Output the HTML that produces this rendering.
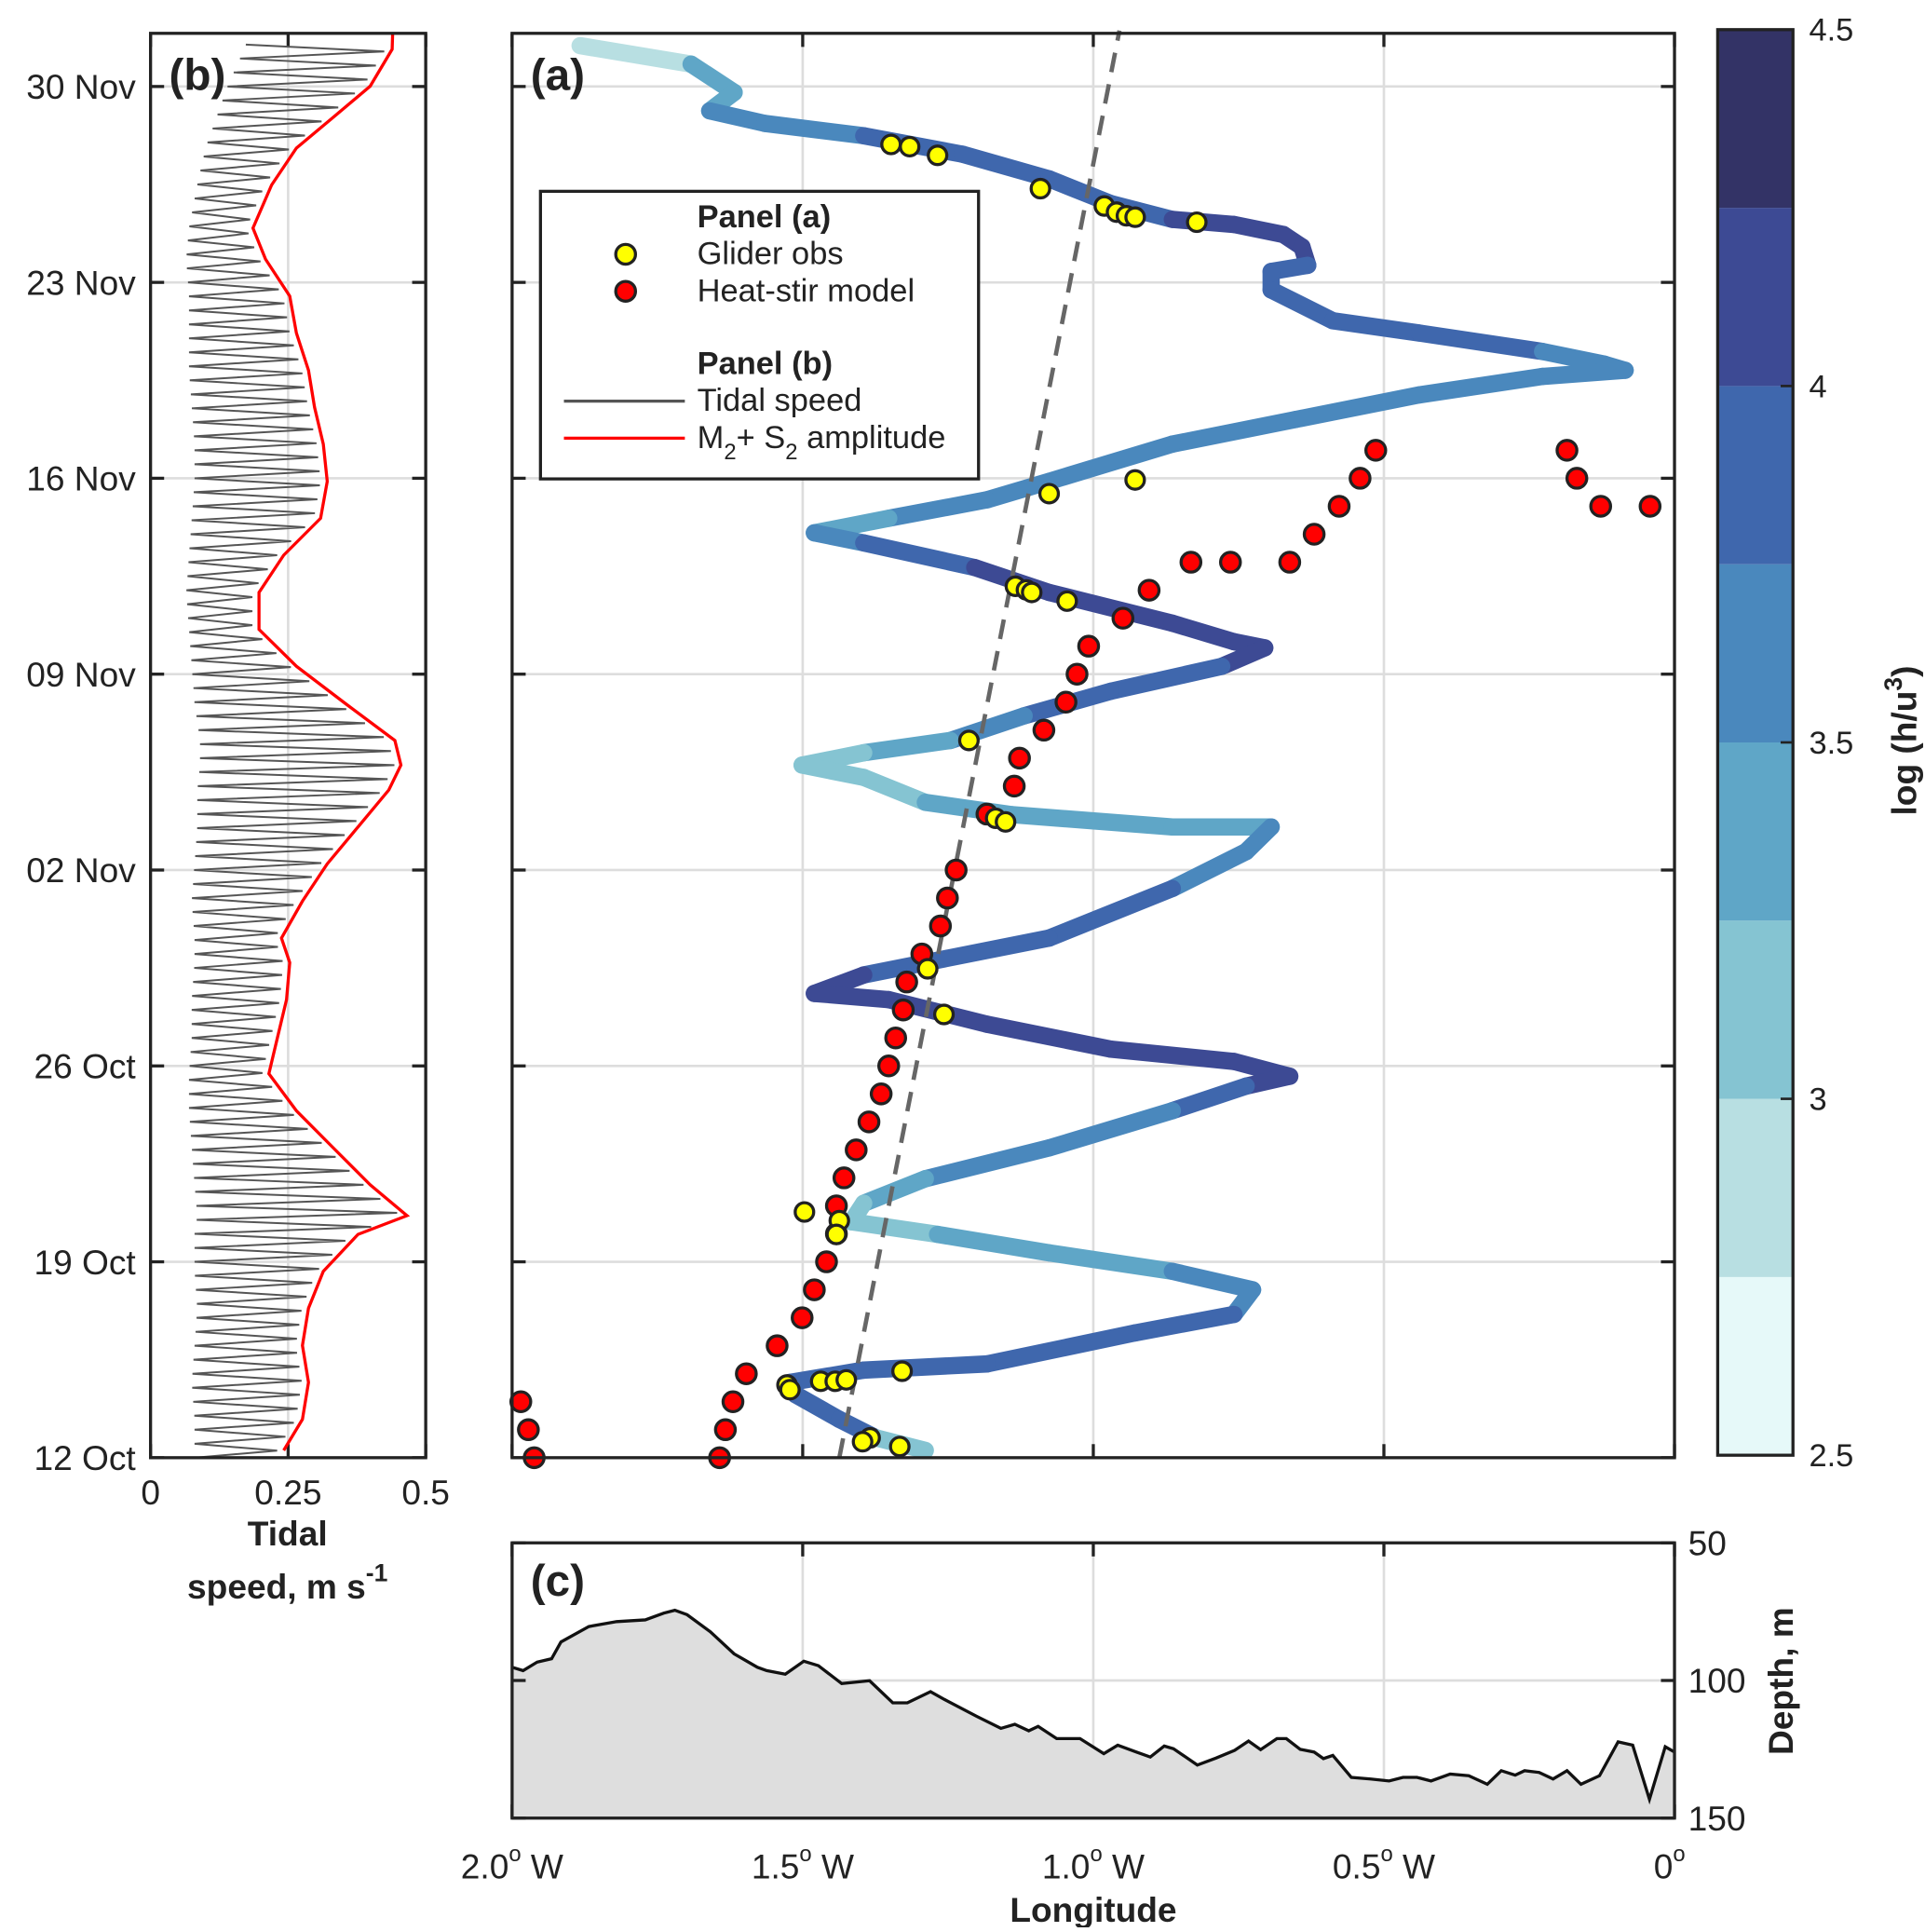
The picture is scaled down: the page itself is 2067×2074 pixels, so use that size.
<!DOCTYPE html>
<html><head><meta charset="utf-8"><style>
html,body{margin:0;padding:0;background:#fff}
svg text{font-family:"Liberation Sans",sans-serif;fill:#222}
</style></head><body>
<svg id="fig" xmlns="http://www.w3.org/2000/svg" width="2067" height="2069" viewBox="0 0 1560 1561.5">
<g id="gb"></g>
<g id="ga"></g>
<g id="gc"></g>
<g id="gcb"></g>
</svg>
<script>
// ---- data ----
const dateTicks=["12 Oct","19 Oct","26 Oct","02 Nov","09 Nov","16 Nov","23 Nov","30 Nov"];
const dateTickDays=[0,7,14,21,28,35,42,49];
const speedTicks=[0,0.25,0.5];
const lonTicks=[-2,-1.5,-1,-0.5,0];
const lonTickLabels=["2.0","1.5","1.0","0.5","0"];
const cbTicks=[2.5,3,3.5,4,4.5];
const cbColors=["#e6f9f9","#b8dfe2","#85c4d2","#5fa6c7","#4a88bd","#3f67ad","#3d4a94","#333366"];
const depthTicks=[50,100,150];
const envDay=[0.26,1.37,2.69,4.01,5.34,6.66,7.98,8.65,9.75,11.07,12.40,13.72,15.04,16.37,17.69,18.57,19.89,21.22,22.54,23.86,24.75,25.63,26.95,28.28,29.60,30.92,32.25,33.57,34.89,36.22,37.54,38.86,40.19,41.51,42.83,43.94,45.48,46.80,47.90,49.01,50.33,50.9];
const envAmp=[.242,.276,.287,.276,.287,.314,.377,.466,.399,.332,.265,.215,.231,.247,.253,.238,.276,.321,.377,.433,.455,.444,.354,.265,.197,.197,.242,.309,.321,.314,.298,.287,.265,.253,.209,.186,.220,.265,.332,.399,.439,.44];
const envMin=[.08,.08,.075,.08,.085,.08,.08,.085,.08,.075,.07,.07,.075,.075,.08,.08,.075,.08,.085,.085,.09,.09,.08,.075,.07,.065,.07,.075,.08,.08,.075,.07,.07,.07,.065,.07,.085,.1,.12,.14,.17,.18];
const trackLon=[-1.883,-1.692,-1.618,-1.660,-1.565,-1.395,-1.225,-1.076,-0.970,-0.864,-0.758,-0.673,-0.641,-0.631,-0.694,-0.694,-0.588,-0.439,-0.227,-0.121,-0.085,-0.227,-0.439,-0.652,-0.864,-1.076,-1.183,-1.352,-1.480,-1.395,-1.204,-1.076,-0.864,-0.758,-0.705,-0.779,-0.970,-1.119,-1.246,-1.395,-1.501,-1.395,-1.289,-1.140,-0.864,-0.694,-0.737,-0.864,-1.076,-1.289,-1.395,-1.480,-1.352,-1.183,-0.970,-0.758,-0.662,-0.737,-0.864,-1.076,-1.289,-1.395,-1.416,-1.268,-1.076,-0.864,-0.726,-0.758,-0.928,-1.183,-1.395,-1.522,-1.512,-1.437,-1.374,-1.289];
const trackDay=[50.46,49.80,48.79,48.13,47.68,47.24,46.58,45.70,44.82,44.25,44.07,43.71,43.27,42.61,42.39,41.73,40.63,40.19,39.53,39.08,38.86,38.64,37.98,37.10,36.22,34.89,34.23,33.57,33.05,32.69,31.81,30.92,29.82,29.16,28.94,28.28,27.39,26.51,25.63,25.19,24.75,24.31,23.42,22.98,22.54,22.54,21.66,20.34,18.57,17.69,17.25,16.59,16.37,15.49,14.60,14.16,13.63,13.28,12.40,11.07,9.97,9.09,8.43,7.98,7.32,6.66,6.00,5.12,4.46,3.35,3.13,2.69,2.25,1.37,0.71,0.26];
const trackLog=[2.6,3.2,3.3,3.5,3.6,3.7,3.8,3.9,3.9,4.0,4.1,4.1,4.1,4.0,3.9,3.8,3.8,3.8,3.7,3.6,3.6,3.6,3.6,3.6,3.6,3.6,3.6,3.5,3.4,3.6,3.9,4.1,4.2,4.2,4.2,3.9,3.8,3.7,3.4,3.2,3.2,3.2,3.25,3.3,3.4,3.4,3.6,3.7,3.8,3.9,4.0,4.1,4.1,4.1,4.2,4.2,4.2,3.9,3.7,3.6,3.4,3.2,3.2,3.2,3.3,3.5,3.7,3.7,3.8,3.8,3.8,3.8,3.7,3.9,3.7,2.7];
const gliderLon=[-1.348,-1.316,-1.268,-1.091,-0.981,-0.960,-0.943,-0.928,-0.822,-1.076,-0.928,-1.134,-1.115,-1.106,-1.045,-1.214,-1.168,-1.151,-1.285,-1.257,-1.497,-1.437,-1.442,-1.527,-1.522,-1.469,-1.444,-1.425,-1.329,-1.384,-1.397,-1.333];
const gliderDay=[46.93,46.85,46.54,45.35,44.73,44.51,44.38,44.33,44.15,34.45,34.94,31.14,31.01,30.92,30.61,25.63,22.85,22.72,17.47,15.84,8.78,8.47,7.98,2.60,2.43,2.73,2.73,2.78,3.09,0.71,0.57,0.40];
const modelLon=[-1.985,-1.972,-1.962,-1.643,-1.633,-1.620,-1.597,-1.544,-1.501,-1.480,-1.459,-1.442,-1.442,-1.429,-1.408,-1.386,-1.365,-1.352,-1.340,-1.327,-1.321,-1.295,-1.263,-1.251,-1.236,-1.183,-1.136,-1.127,-1.085,-1.047,-1.028,-1.008,-0.949,-0.904,-0.832,-0.764,-0.662,-0.620,-0.577,-0.541,-0.514,-0.185,-0.168,-0.127,-0.042];
const modelDay=[2,1,0,0,1,2,3,4,5,6,7,8,9,10,11,12,13,14,15,16,17,18,19,20,21,23,24,25,26,27,28,29,30,31,32,32,32,33,34,35,36,36,35,34,34];
const fitLon=[-1.437,-0.955];
const fitDay=[0,51];
const bathLon=[-2.000,-1.981,-1.957,-1.932,-1.916,-1.868,-1.820,-1.771,-1.739,-1.720,-1.699,-1.659,-1.618,-1.578,-1.562,-1.530,-1.498,-1.473,-1.433,-1.385,-1.345,-1.320,-1.280,-1.256,-1.200,-1.159,-1.135,-1.111,-1.095,-1.063,-1.023,-0.982,-0.958,-0.926,-0.902,-0.878,-0.862,-0.821,-0.789,-0.757,-0.733,-0.712,-0.684,-0.668,-0.644,-0.620,-0.604,-0.588,-0.556,-0.523,-0.491,-0.467,-0.443,-0.419,-0.386,-0.354,-0.322,-0.298,-0.274,-0.258,-0.233,-0.209,-0.185,-0.161,-0.129,-0.097,-0.072,-0.043,-0.016,0];
const bathDepth=[95.2,96.4,93.3,92.1,86.0,80.4,78.6,78.0,75.5,74.5,76.1,82.3,90.3,95.2,96.4,97.7,93.0,94.6,101.1,100.1,108.1,108.1,104.1,106.9,113.1,117.4,115.9,118.3,116.7,121.1,121.1,126.6,123.5,126.0,127.8,123.8,124.8,130.7,128.2,125.4,122.0,125.1,121.1,121.1,125.0,126.0,128.4,127.2,135.2,135.8,136.5,135.2,135.2,136.5,134.0,134.6,137.7,132.8,134.4,132.8,133.4,135.8,132.8,137.7,134.6,122.3,123.5,143.2,124.1,126.0];

// ---- helpers ----
const NS="http://www.w3.org/2000/svg";
function mk(parent,tag,attrs,text){const e=document.createElementNS(NS,tag);for(const k in attrs)e.setAttribute(k,attrs[k]);if(text!==undefined)e.textContent=text;parent.appendChild(e);return e;}
const A={x0:415,x1:1357,y0:27,y1:1181}, B={x0:122,x1:345}, C={y0:1250,y1:1473};
const xLon=l=>A.x1+(l)*(A.x1-A.x0)/2;
const yDay=d=>A.y1-d*(A.y1-A.y0)/50.9;
const xSpd=s=>B.x0+s*(B.x1-B.x0)/0.5;
const yDep=d=>C.y0+(d-50)*(C.y1-C.y0)/100;
const cbY=v=>1179-(v-2.5)*(1179-24)/2;
function colorOf(v){let i=Math.floor((v-2.5)/0.25);i=Math.max(0,Math.min(7,i));return cbColors[i];}
function interp(xs,ys,x){if(x<=xs[0])return ys[0];for(let i=1;i<xs.length;i++){if(x<=xs[i]){const f=(x-xs[i-1])/(xs[i]-xs[i-1]);return ys[i-1]+f*(ys[i]-ys[i-1]);}}return ys[ys.length-1];}

// ---- panel b ----
const gb=document.getElementById('gb');
mk(gb,'rect',{x:B.x0,y:A.y0,width:B.x1-B.x0,height:A.y1-A.y0,fill:'#fff'});
dateTickDays.forEach((d,i)=>{const y=yDay(d);
 const gl=mk(gb,'line',{x1:B.x0,x2:B.x1,y1:y,y2:y,stroke:'#ddd','stroke-width':2});
 
 mk(gb,'line',{x1:B.x0,x2:B.x0+11,y1:y,y2:y,stroke:'#222','stroke-width':2.5});
 mk(gb,'line',{x1:B.x1-11,x2:B.x1,y1:y,y2:y,stroke:'#222','stroke-width':2.5});
 const t=mk(gb,'text',{x:B.x0-12,y:y+10,'text-anchor':'end','font-size':28},dateTicks[i]);
 });
mk(gb,'line',{x1:xSpd(0.25),x2:xSpd(0.25),y1:A.y0,y2:A.y1,stroke:'#ddd','stroke-width':2});
speedTicks.forEach(s=>{const x=xSpd(s);
 mk(gb,'line',{x1:x,x2:x,y1:A.y1,y2:A.y1-11,stroke:'#222','stroke-width':2.5});
 mk(gb,'line',{x1:x,x2:x,y1:A.y0,y2:A.y0+11,stroke:'#222','stroke-width':2.5});
 const t=mk(gb,'text',{x:x,y:A.y1+38,'text-anchor':'middle','font-size':28},String(s));
 });
let zz=[];for(let k=0;k<=202;k++){const t=k*0.25;const v=(k%2===0)?interp(envDay,envMin,t):interp(envDay,envAmp,t)-0.012;zz.push(xSpd(v).toFixed(1)+','+yDay(t).toFixed(1));}
const tl=mk(gb,'polyline',{points:zz.join(' '),fill:'none',stroke:'#555','stroke-width':1.5});

const rl=mk(gb,'polyline',{points:envDay.map((d,i)=>xSpd(envAmp[i]).toFixed(1)+','+yDay(d).toFixed(1)).join(' '),fill:'none',stroke:'#f00','stroke-width':2.5});

mk(gb,'rect',{x:B.x0,y:A.y0,width:B.x1-B.x0,height:A.y1-A.y0,fill:'none',stroke:'#222','stroke-width':2.5});
let lb=mk(gb,'text',{x:137,y:73,'font-size':36,'font-weight':'bold'},'(b)');
let xt=mk(gb,'text',{x:233,y:1252,'text-anchor':'middle','font-size':28,'font-weight':'bold'},'Tidal');
let xt2=mk(gb,'text',{x:233,y:1295,'text-anchor':'middle','font-size':28,'font-weight':'bold'});xt2.innerHTML='speed, m s<tspan dy="-14" font-size="20">-1</tspan>';


// ---- panel a ----
const ga=document.getElementById('ga');
lonTicks.forEach(l=>{const x=xLon(l);if(l>-2&&l<0){const g=mk(ga,'line',{x1:x,x2:x,y1:A.y0,y2:A.y1,stroke:'#ddd','stroke-width':2});}
 mk(ga,'line',{x1:x,x2:x,y1:A.y1,y2:A.y1-11,stroke:'#222','stroke-width':2.5});mk(ga,'line',{x1:x,x2:x,y1:A.y0,y2:A.y0+11,stroke:'#222','stroke-width':2.5});});
dateTickDays.forEach(d=>{const y=yDay(d);mk(ga,'line',{x1:A.x0,x2:A.x1,y1:y,y2:y,stroke:'#ddd','stroke-width':2});
 mk(ga,'line',{x1:A.x0,x2:A.x0+11,y1:y,y2:y,stroke:'#222','stroke-width':2.5});mk(ga,'line',{x1:A.x1-11,x2:A.x1,y1:y,y2:y,stroke:'#222','stroke-width':2.5});});
const tg=mk(ga,'g',{});
for(let i=0;i<trackLon.length-1;i++){const s=mk(tg,'line',{x1:xLon(trackLon[i]),y1:yDay(trackDay[i]),x2:xLon(trackLon[i+1]),y2:yDay(trackDay[i+1]),stroke:colorOf((trackLog[i]+trackLog[i+1])/2),'stroke-width':14,'stroke-linecap':'round'});
 }
const fl=mk(ga,'line',{x1:xLon(fitLon[0]),y1:yDay(fitDay[0]),x2:xLon(fitLon[1]),y2:yDay(fitDay[1]),stroke:'#666','stroke-width':3.5,'stroke-dasharray':'16,10'});

modelLon.forEach((l,i)=>{const c=mk(ga,'circle',{cx:xLon(l),cy:yDay(modelDay[i]),r:8,fill:'#f00',stroke:'#222','stroke-width':2.5});
 });
gliderLon.forEach((l,i)=>{const c=mk(ga,'circle',{cx:xLon(l),cy:yDay(gliderDay[i]),r:7.5,fill:'#ff0',stroke:'#222','stroke-width':2.5});
 });
mk(ga,'rect',{x:A.x0,y:A.y0,width:A.x1-A.x0,height:A.y1-A.y0,fill:'none',stroke:'#222','stroke-width':2.5});
lb=mk(ga,'text',{x:430,y:73,'font-size':36,'font-weight':'bold'},'(a)');
// legend
const lg=mk(ga,'g',{});
mk(lg,'rect',{x:438,y:155,width:355,height:233,fill:'#fff',stroke:'#222','stroke-width':2.5});
function lt(y,txt,bold,name){const t=mk(lg,'text',{x:565,y:y,'font-size':26,'font-weight':bold?'bold':'normal'},txt);return t;}
lt(184,'Panel (a)',true,'legend-title-a');
mk(lg,'circle',{cx:507,cy:206,r:8,fill:'#ff0',stroke:'#222','stroke-width':2.5});lt(214,'Glider obs',false,'legend-entry-glider');
mk(lg,'circle',{cx:507,cy:236,r:8,fill:'#f00',stroke:'#222','stroke-width':2.5});lt(244,'Heat-stir model',false,'legend-entry-model');
lt(303,'Panel (b)',true,'legend-title-b');
mk(lg,'line',{x1:457,x2:555,y1:325,y2:325,stroke:'#555','stroke-width':2.5});lt(333,'Tidal speed',false,'legend-entry-tidal');
mk(lg,'line',{x1:457,x2:555,y1:355,y2:355,stroke:'#f00','stroke-width':2.5});
let m2=lt(363,'',false,'legend-entry-m2s2');m2.innerHTML='M<tspan dy="9" font-size="18">2</tspan><tspan dy="-9">+ S</tspan><tspan dy="9" font-size="18">2</tspan><tspan dy="-9"> amplitude</tspan>';

// ---- colorbar ----
const gcb=document.getElementById('gcb');
cbColors.forEach((c,i)=>{const r=mk(gcb,'rect',{x:1392,y:cbY(2.5+(i+1)*0.25),width:61,height:cbY(2.5)-cbY(2.75),fill:c});});
mk(gcb,'rect',{x:1392,y:24,width:61,height:1155,fill:'none',stroke:'#222','stroke-width':2.5});
cbTicks.forEach(v=>{const y=cbY(v);if(v>2.5&&v<4.5)mk(gcb,'line',{x1:1443,x2:1453,y1:y,y2:y,stroke:'#222','stroke-width':2});
 const t=mk(gcb,'text',{x:1466,y:y+9,'font-size':26},String(v));});
const cbl=mk(gcb,'text',{x:0,y:0,'font-size':28,'font-weight':'bold','text-anchor':'middle',transform:'translate(1553,600) rotate(-90)'});
cbl.innerHTML='log (h/u<tspan dy="-12" font-size="20">3</tspan><tspan dy="12">)</tspan>';


// ---- panel c ----
const gc=document.getElementById('gc');
lonTicks.forEach((l,i)=>{const x=xLon(l);if(l>-2&&l<0)mk(gc,'line',{x1:x,x2:x,y1:C.y0,y2:C.y1,stroke:'#ddd','stroke-width':2});
 mk(gc,'line',{x1:x,x2:x,y1:C.y1,y2:C.y1-11,stroke:'#222','stroke-width':2.5});mk(gc,'line',{x1:x,x2:x,y1:C.y0,y2:C.y0+11,stroke:'#222','stroke-width':2.5});
 const t=mk(gc,'text',{x:x+(l===0?-4:0),y:1522,'text-anchor':'middle','font-size':28});
 t.innerHTML=lonTickLabels[i]+'<tspan dy="-14" font-size="18">o</tspan>'+(l<0?'<tspan dy="14"> W</tspan>':'');
 });
mk(gc,'line',{x1:A.x0,x2:A.x1,y1:yDep(100),y2:yDep(100),stroke:'#ddd','stroke-width':2});
const pts=bathLon.map((l,i)=>xLon(l).toFixed(1)+','+yDep(bathDepth[i]).toFixed(1));
const ar=mk(gc,'polygon',{points:xLon(-2)+','+C.y1+' '+pts.join(' ')+' '+xLon(0)+','+C.y1,fill:'#dedede'});

const bl=mk(gc,'polyline',{points:pts.join(' '),fill:'none',stroke:'#111','stroke-width':2.5});

mk(gc,'rect',{x:A.x0,y:C.y0,width:A.x1-A.x0,height:C.y1-C.y0,fill:'none',stroke:'#222','stroke-width':2.5});
depthTicks.forEach(d=>{const y=yDep(d);mk(gc,'line',{x1:A.x0,x2:A.x0+11,y1:y,y2:y,stroke:'#222','stroke-width':2.5});mk(gc,'line',{x1:A.x1-11,x2:A.x1,y1:y,y2:y,stroke:'#222','stroke-width':2.5});
 const t=mk(gc,'text',{x:1368,y:y+10,'font-size':28},String(d));});
lb=mk(gc,'text',{x:430,y:1293,'font-size':36,'font-weight':'bold'},'(c)');
const dl=mk(gc,'text',{x:0,y:0,'font-size':28,'font-weight':'bold','text-anchor':'middle',transform:'translate(1453,1362) rotate(-90)'},'Depth, m');

const lx=mk(gc,'text',{x:886,y:1557,'font-size':28,'font-weight':'bold','text-anchor':'middle'},'Longitude');

</script>
</body></html>
